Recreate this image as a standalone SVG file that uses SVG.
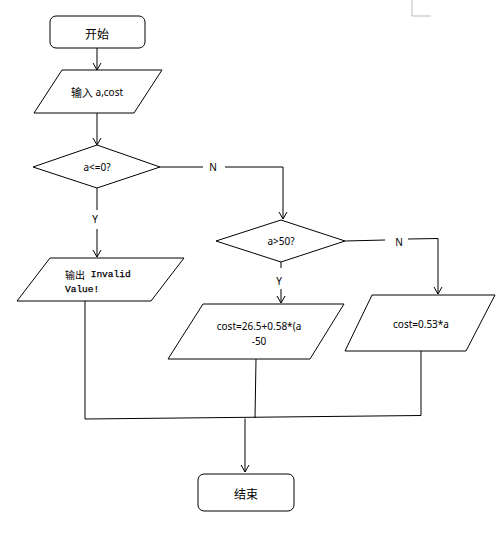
<svg xmlns="http://www.w3.org/2000/svg" width="500" height="541" viewBox="0 0 500 541">
<style>
.s{fill:#fff;stroke:#000;stroke-width:1}
.t{font-family:"Noto Sans","Noto Sans CJK SC",sans-serif;font-size:10px;fill:#000;text-anchor:middle;dominant-baseline:central}
.c{font-family:"Noto Sans CJK SC",sans-serif;font-size:12px}
.m{font-family:"Liberation Mono","Noto Sans CJK SC",monospace;font-size:9.5px;text-anchor:start;stroke:#000;stroke-width:0.25}
.l{fill:none;stroke:#000;stroke-width:1}
</style>
<defs>
<marker id="a" markerWidth="10" markerHeight="10" refX="9" refY="5" orient="auto" markerUnits="userSpaceOnUse" viewBox="0 0 10 10">
<path d="M2,1 L9,5 L2,9" fill="none" stroke="#000" stroke-width="1"/>
</marker>
</defs>
<rect width="500" height="541" fill="#fff"/>
<path d="M412,0 V16 H431" fill="none" stroke="#bbb" stroke-width="1"/>
<g id="connectors">
<line class="l" x1="97" y1="48" x2="97" y2="70" marker-end="url(#a)"/>
<line class="l" x1="97" y1="113" x2="97" y2="145" marker-end="url(#a)"/>
<line class="l" x1="160" y1="167" x2="203" y2="167"/>
<path class="l" d="M225,167 H283 V219" marker-end="url(#a)"/>
<line class="l" x1="97" y1="188" x2="97" y2="210"/>
<line class="l" x1="97" y1="229" x2="97" y2="257" marker-end="url(#a)"/>
<line class="l" x1="345" y1="241" x2="385" y2="240"/>
<path class="l" d="M408,239 L438,238.5 V294" marker-end="url(#a)"/>
<line class="l" x1="281" y1="262" x2="281" y2="268"/>
<line class="l" x1="281" y1="289" x2="281" y2="303" marker-end="url(#a)"/>
<path class="l" d="M85,301 V419 L421,415.5 V351"/>
<line class="l" x1="256" y1="359" x2="255" y2="418"/>
<line class="l" x1="245" y1="418.5" x2="245" y2="472" marker-end="url(#a)"/>
<text class="t" x="213" y="167">N</text>
<text class="t" x="95" y="219">Y</text>
<text class="t" x="399" y="242">N</text>
<text class="t" x="279" y="281">Y</text>
</g>
<g id="start">
<rect class="s" x="50" y="16" width="95" height="32" rx="6"/>
<text class="t c" x="97" y="33">开始</text>
</g>
<g id="input">
<polygon class="s" points="62,70 162,70 134,113 34,113"/>
<text class="t" x="97" y="92"><tspan class="c" style="font-size:11px">输入</tspan> a,cost</text>
</g>
<g id="cond1">
<polygon class="s" points="97,145 160,167 97,188 33,167"/>
<text class="t" x="97" y="167">a&lt;=0?</text>
</g>
<g id="cond2">
<polygon class="s" points="281,220 345,241 281,262 216,241"/>
<text class="t" x="281" y="241">a&gt;50?</text>
</g>
<g id="output">
<polygon class="s" points="50,258 184,258 151,301 17,301"/>
<text class="t m" x="65" y="274"><tspan style="font-family:'Noto Sans CJK SC',sans-serif;font-size:10px;stroke:none">输出</tspan> Invalid</text>
<text class="t m" x="65" y="289">Value!</text>
</g>
<g id="calc1">
<polygon class="s" points="203,304 344,304 310,359 168,359"/>
<text class="t" x="259" y="326">cost=26.5+0.58*(a</text>
<text class="t" x="259" y="341">-50</text>
</g>
<g id="calc2">
<polygon class="s" points="372,295 495,295 466,351 345,351"/>
<text class="t" x="421" y="324">cost=0.53*a</text>
</g>
<g id="end">
<rect class="s" x="198" y="474" width="96" height="37" rx="6"/>
<text class="t c" x="246" y="493">结束</text>
</g>
</svg>
